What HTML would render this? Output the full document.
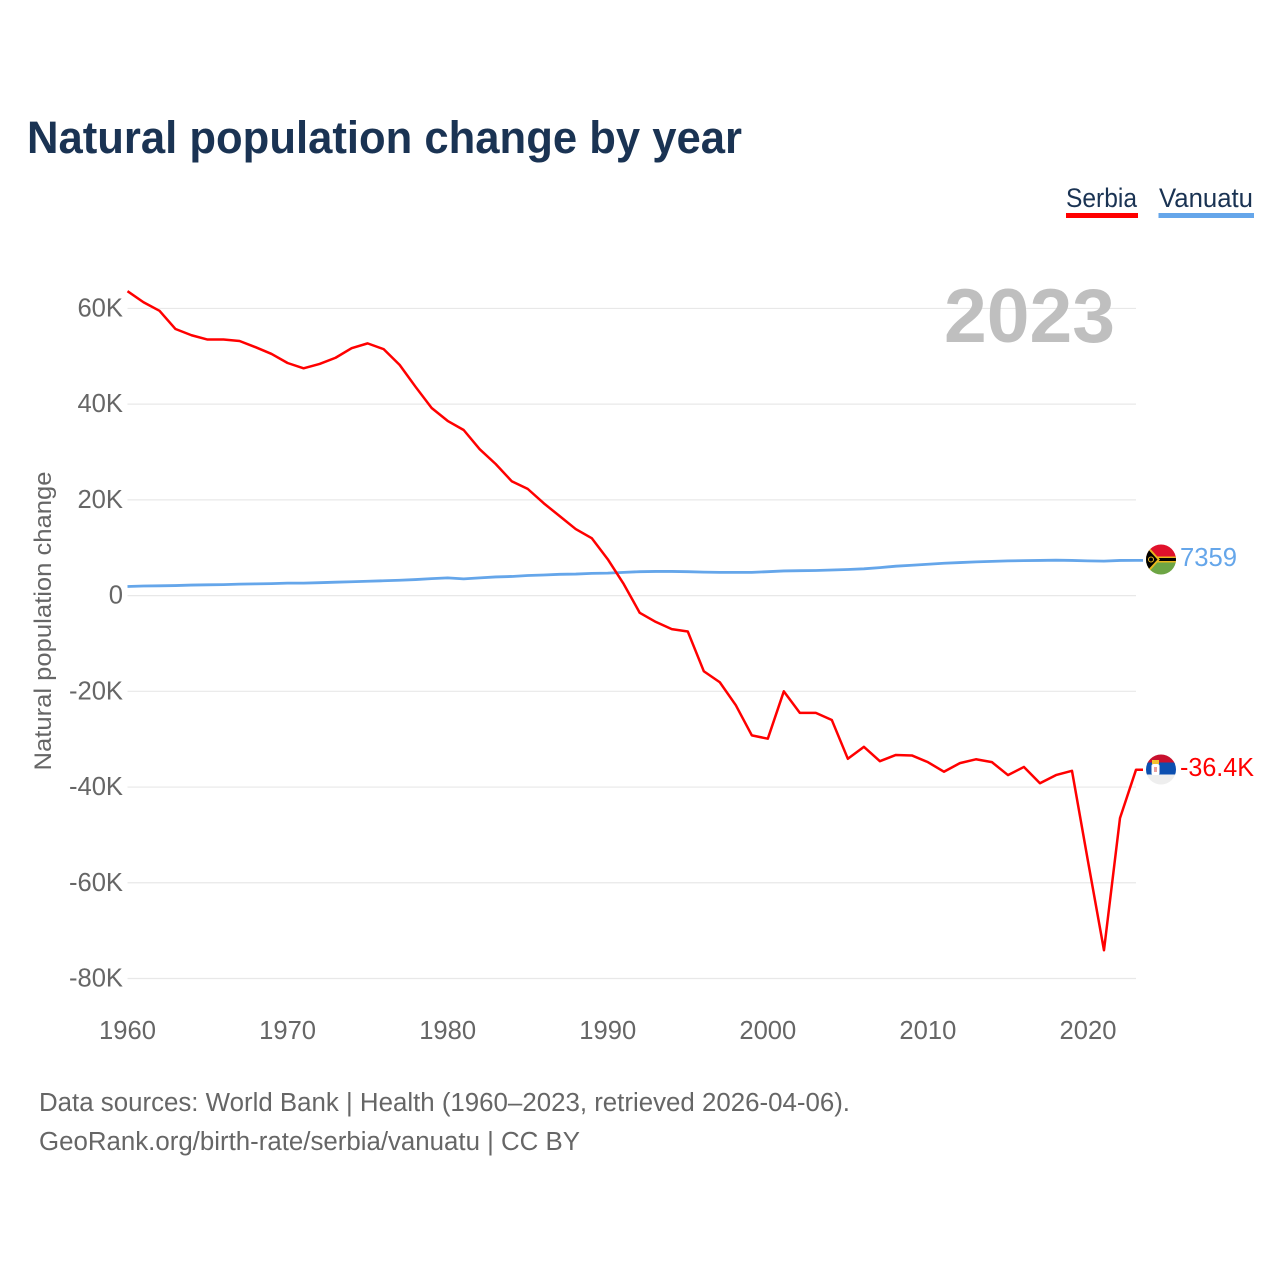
<!DOCTYPE html>
<html lang="en">
<head>
<meta charset="utf-8">
<title>Natural population change by year</title>
<style>
html,body{margin:0;padding:0;background:#fff;}
svg{display:block;font-family:"Liberation Sans",Arial,sans-serif;}
.tick{fill:#666;font-size:25.6px;}
.foot{fill:#666;font-size:25.5px;}
</style>
</head>
<body>
<svg id="chart" xmlns="http://www.w3.org/2000/svg" width="1280" height="1280" viewBox="0 0 1280 1280">
  <rect width="1280" height="1280" fill="#fff"/>
  <text x="27" y="153" font-size="45.500" font-weight="700" fill="#1a3353" textLength="715" lengthAdjust="spacingAndGlyphs">Natural population change by year</text>

  <text x="1066" y="207" font-size="27" fill="#1a3353" textLength="71" lengthAdjust="spacingAndGlyphs">Serbia</text>
  <rect x="1066" y="213" width="72" height="5" fill="#ff0000"/>
  <text x="1159" y="207" font-size="27" fill="#1a3353" textLength="94" lengthAdjust="spacingAndGlyphs">Vanuatu</text>
  <rect x="1158.500" y="213" width="95.500" height="5" fill="#65a6ea"/>

  <g id="grid"></g>
  <g id="yticks"></g>
  <g id="xticks"></g>

  <text x="1115" y="342" text-anchor="end" font-size="76" font-weight="700" fill="#bfbfbf" textLength="171" lengthAdjust="spacingAndGlyphs">2023</text>

  <text transform="translate(51,621) rotate(-90)" text-anchor="middle" font-size="24.500" fill="#666" textLength="299" lengthAdjust="spacingAndGlyphs">Natural population change</text>

  <path id="line-vanuatu" fill="none" stroke="#65a6ea" stroke-width="2.800" stroke-linejoin="round"/>
  <path id="line-serbia" fill="none" stroke="#ff0000" stroke-width="2.500" stroke-linejoin="round"/>

  <defs>
    <clipPath id="clip-v"><circle cx="1161" cy="559.500" r="15"/></clipPath>
    <clipPath id="clip-s"><circle cx="1161" cy="769.500" r="15"/></clipPath>
  </defs>
  <g clip-path="url(#clip-v)">
    <rect x="1146" y="544" width="30" height="16" fill="#e0112b"/>
    <rect x="1146" y="559.500" width="30" height="16" fill="#6da544"/>
    <rect x="1155" y="556.500" width="21" height="6" fill="#e8b71e"/>
    <rect x="1155" y="558" width="21" height="3" fill="#000"/>
    <polygon points="1146,544 1146,575 1160,559.500" fill="#e8b71e"/>
    <polygon points="1146,547 1146,572 1157.500,559.500" fill="#000"/>
    <circle cx="1151" cy="559.500" r="2.500" fill="none" stroke="#e8b71e" stroke-width="1"/>
  </g>
  <g clip-path="url(#clip-s)">
    <rect x="1146" y="754" width="30" height="10" fill="#c8102e"/>
    <rect x="1146" y="762.500" width="30" height="12" fill="#0c4fb0"/>
    <rect x="1146" y="774.500" width="30" height="11" fill="#eeeeee"/>
    <rect x="1151.500" y="764" width="8" height="11" rx="2" fill="#fff"/>
    <rect x="1152" y="760" width="7" height="4" fill="#f2c230"/>
    <rect x="1154" y="767" width="3" height="5" fill="#e9a0a0"/>
  </g>

  <text x="1180" y="566" font-size="25.500" fill="#65a6ea" textLength="57" lengthAdjust="spacingAndGlyphs">7359</text>
  <text x="1180" y="776" font-size="25.500" fill="#ff0000" textLength="74" lengthAdjust="spacingAndGlyphs">-36.4K</text>

  <text class="foot" x="39" y="1111" textLength="811" lengthAdjust="spacingAndGlyphs">Data sources: World Bank | Health (1960–2023, retrieved 2026-04-06).</text>
  <text class="foot" x="39" y="1150" textLength="541" lengthAdjust="spacingAndGlyphs">GeoRank.org/birth-rate/serbia/vanuatu | CC BY</text>
</svg>
<script>
const years = [1960,1961,1962,1963,1964,1965,1966,1967,1968,1969,1970,1971,1972,1973,1974,1975,1976,1977,1978,1979,1980,1981,1982,1983,1984,1985,1986,1987,1988,1989,1990,1991,1992,1993,1994,1995,1996,1997,1998,1999,2000,2001,2002,2003,2004,2005,2006,2007,2008,2009,2010,2011,2012,2013,2014,2015,2016,2017,2018,2019,2020,2021,2022,2023];
const serbiaValues = [63.6,61.3,59.5,55.7,54.4,53.5,53.5,53.2,51.9,50.5,48.6,47.5,48.4,49.7,51.7,52.7,51.5,48.2,43.6,39.2,36.5,34.6,30.6,27.5,23.9,22.3,19.3,16.6,13.9,12.0,7.6,2.4,-3.6,-5.5,-7.0,-7.5,-15.8,-18.1,-22.9,-29.2,-29.9,-20.0,-24.5,-24.5,-26.0,-34.1,-31.6,-34.6,-33.3,-33.4,-34.8,-36.8,-35.0,-34.2,-34.8,-37.5,-35.8,-39.2,-37.5,-36.6,-55.5,-74.1,-46.5,-36.4];
const vanuatuValues = [1.9,2.0,2.05,2.1,2.2,2.25,2.3,2.4,2.45,2.5,2.6,2.6,2.7,2.8,2.9,3.0,3.1,3.2,3.35,3.55,3.7,3.5,3.7,3.9,4.0,4.2,4.3,4.45,4.5,4.65,4.7,4.85,5.0,5.05,5.05,5.0,4.9,4.85,4.85,4.85,5.0,5.15,5.2,5.25,5.35,5.45,5.6,5.85,6.15,6.35,6.55,6.75,6.9,7.05,7.15,7.25,7.3,7.35,7.4,7.35,7.25,7.2,7.35,7.359];
const yTickValues = [60,40,20,0,-20,-40,-60,-80];
const yTickLabels = ["60K","40K","20K","0","-20K","-40K","-60K","-80K"];
const xTickValues = [1960,1970,1980,1990,2000,2010,2020];

const NS = 'http://www.w3.org/2000/svg';
function xScale(year){ return 127.5 + (year - 1960) * (1136 - 127.5) / 63; }
function yScale(k){ return 595.6 - k * 4.786; }
function linePath(values){
  let d = values.map(function(v,i){ return (i ? 'L' : 'M') + xScale(years[i]).toFixed(2) + ' ' + yScale(v).toFixed(2); }).join(' ');
  d += ' L1143 ' + yScale(values[values.length-1]).toFixed(2);
  return d;
}
const grid = document.getElementById('grid');
const yG = document.getElementById('yticks');
const xG = document.getElementById('xticks');
yTickValues.forEach(function(v,i){
  const g = document.createElementNS(NS,'line');
  g.setAttribute('x1', xScale(1960));
  g.setAttribute('x2', xScale(2023));
  g.setAttribute('y1', yScale(v));
  g.setAttribute('y2', yScale(v));
  g.setAttribute('stroke', '#e8e8e8');
  g.setAttribute('stroke-width', '1.2');
  
  
  grid.appendChild(g);
  const t = document.createElementNS(NS,'text');
  t.setAttribute('class', 'tick');
  t.setAttribute('x', 123);
  t.setAttribute('y', yScale(v) + 8);
  t.setAttribute('text-anchor', 'end');
  t.textContent = yTickLabels[i];
  
  
  yG.appendChild(t);
});
xTickValues.forEach(function(v){
  const t = document.createElementNS(NS,'text');
  t.setAttribute('class', 'tick');
  t.setAttribute('x', xScale(v));
  t.setAttribute('y', 1039);
  t.setAttribute('text-anchor', 'middle');
  t.textContent = String(v);
  
  
  xG.appendChild(t);
});
document.getElementById('line-serbia').setAttribute('d', linePath(serbiaValues));
document.getElementById('line-vanuatu').setAttribute('d', linePath(vanuatuValues));
</script>
</body>
</html>
